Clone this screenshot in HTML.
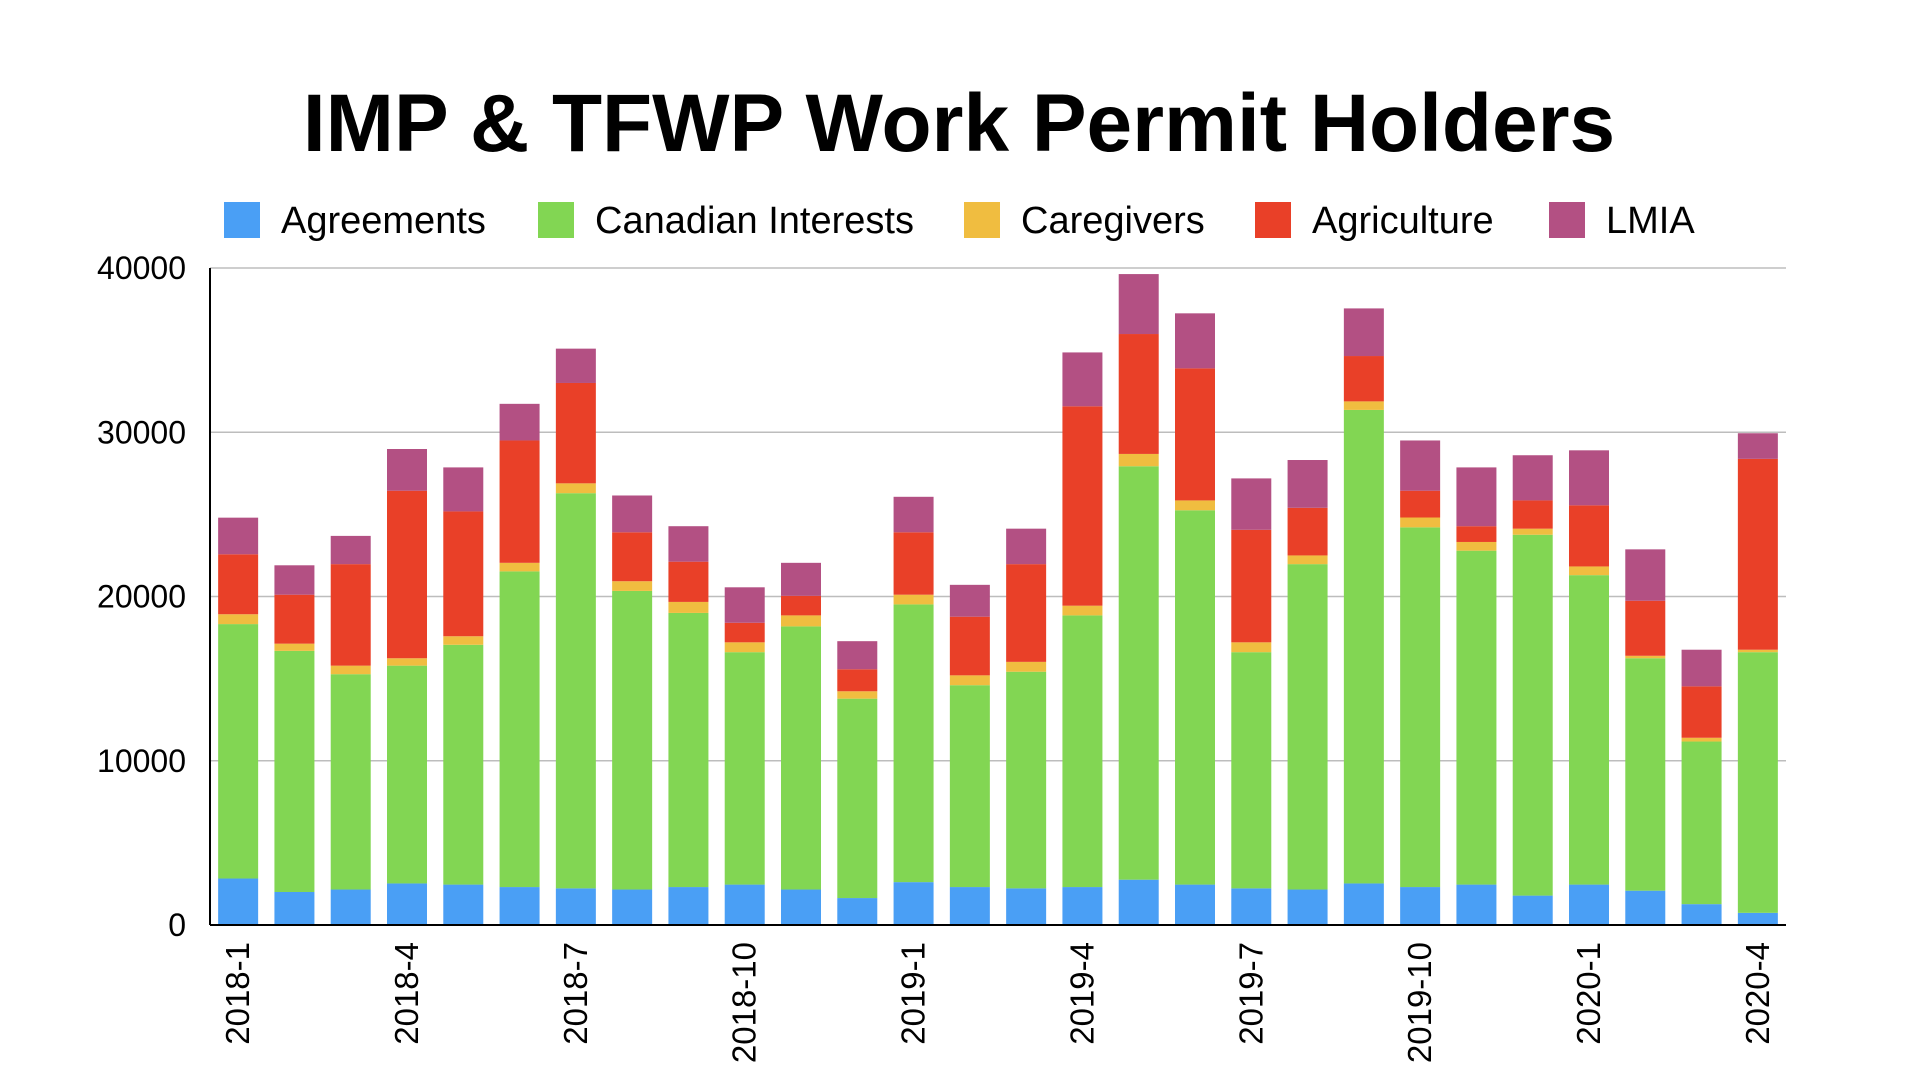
<!DOCTYPE html>
<html><head><meta charset="utf-8"><style>
html,body{margin:0;padding:0;background:#fff;}
svg{display:block;font-family:"Liberation Sans",Arial,sans-serif;}
</style></head><body>
<svg id="chart" width="1920" height="1080" viewBox="0 0 1920 1080">
<text x="959" y="151" text-anchor="middle" font-size="82" font-weight="bold" fill="#000">IMP &amp; TFWP Work Permit Holders</text>
<g id="legend"></g>
<g id="grid"></g>
<g id="bars"></g>
<g id="axes"></g>
</svg>
<script>
const categories = ["2018-1","2018-2","2018-3","2018-4","2018-5","2018-6","2018-7","2018-8","2018-9","2018-10","2018-11","2018-12","2019-1","2019-2","2019-3","2019-4","2019-5","2019-6","2019-7","2019-8","2019-9","2019-10","2019-11","2019-12","2020-1","2020-2","2020-3","2020-4"];
const agreements = [2830,2010,2160,2530,2460,2310,2230,2160,2310,2460,2160,1640,2610,2310,2230,2310,2760,2460,2230,2160,2530,2310,2460,1790,2460,2090,1270,740];
const canadianInterests = [15490,14680,13110,13260,14600,19220,24060,18180,16690,14150,16020,12140,16910,12290,13190,16540,25170,22790,14380,19810,28830,21900,20330,21970,18840,14150,9900,15870];
const caregivers = [600,440,520,450,520,520,600,590,670,600,670,450,590,600,600,590,750,600,600,530,520,600,530,370,530,150,230,150];
const agriculture = [3650,2980,6180,10200,7600,7450,6110,2980,2450,1190,1190,1340,3800,3570,5950,12140,7300,8040,6850,2900,2760,1630,960,1720,3720,3350,3130,11620];
const lmia = [2230,1790,1720,2540,2680,2230,2090,2240,2160,2160,2010,1710,2160,1940,2160,3280,3650,3350,3130,2910,2900,3060,3580,2750,3350,3130,2230,1560];
const seriesNames = ["Agreements","Canadian Interests","Caregivers","Agriculture","LMIA"];
const yTicks = [0,10000,20000,30000,40000];
const xLabelIndex = [0,3,6,9,12,15,18,21,24,27];

const series = [agreements, canadianInterests, caregivers, agriculture, lmia];
const colors = ["#4a9ff5","#82d653","#f0bd40","#e94028","#b35083"];
const keys = ["agreements","canadian-interests","caregivers","agriculture","lmia"];
const NS = "http://www.w3.org/2000/svg";
const X0 = 210, X1 = 1786, Y0 = 925, Y1 = 268, YMAX = 40000;
const step = (X1 - X0) / categories.length, bw = 40;
function y(v){ return Y0 - (v / YMAX) * (Y0 - Y1); }
function xc(i){ return X0 + step * (i + 0.5); }
function mk(tag, attrs, parent){ const e = document.createElementNS(NS, tag); for (const k in attrs) e.setAttribute(k, attrs[k]); parent.appendChild(e); return e; }

const grid = document.getElementById('grid');
const axes = document.getElementById('axes');
yTicks.forEach(t => {
  if (t > 0) {
    const l = mk('line', {x1:X0, x2:X1, y1:y(t), y2:y(t), stroke:'#bdbdbd', 'stroke-width':1.5}, grid);
    
    
  }
  const tx = mk('text', {x:186, y:y(t)+11, 'text-anchor':'end', 'font-size':32, fill:'#000'}, axes);
  tx.textContent = t;
  
  
});

const bars = document.getElementById('bars');
categories.forEach((c, i) => {
  let acc = 0;
  series.forEach((s, k) => {
    const v = s[i];
    const r = mk('rect', {x:xc(i)-bw/2, y:y(acc+v), width:bw, height:y(acc)-y(acc+v), fill:colors[k]}, bars);
    
    
    acc += v;
  });
});

const ya = mk('line', {x1:X0, x2:X0, y1:Y1, y2:Y0, stroke:'#000', 'stroke-width':2}, axes);


const xa = mk('line', {x1:X0, x2:X1, y1:Y0, y2:Y0, stroke:'#000', 'stroke-width':2}, axes);



xLabelIndex.forEach(i => {
  const px = xc(i), py = 942;
  const t = mk('text', {x:px, y:py, 'text-anchor':'end', 'font-size':33, fill:'#000', transform:'rotate(-90 '+px+' '+py+')', dy:'11'}, axes);
  t.textContent = categories[i];
  
  
});

const legend = document.getElementById('legend');
const swX = [224, 538, 964, 1255, 1549];
seriesNames.forEach((n, k) => {
  const r = mk('rect', {x:swX[k], y:202, width:36, height:36, fill:colors[k]}, legend);
  
  
  const t = mk('text', {x:swX[k]+57, y:233, 'font-size':38, fill:'#000'}, legend);
  t.textContent = n;
  
  
});
</script>
</body></html>
